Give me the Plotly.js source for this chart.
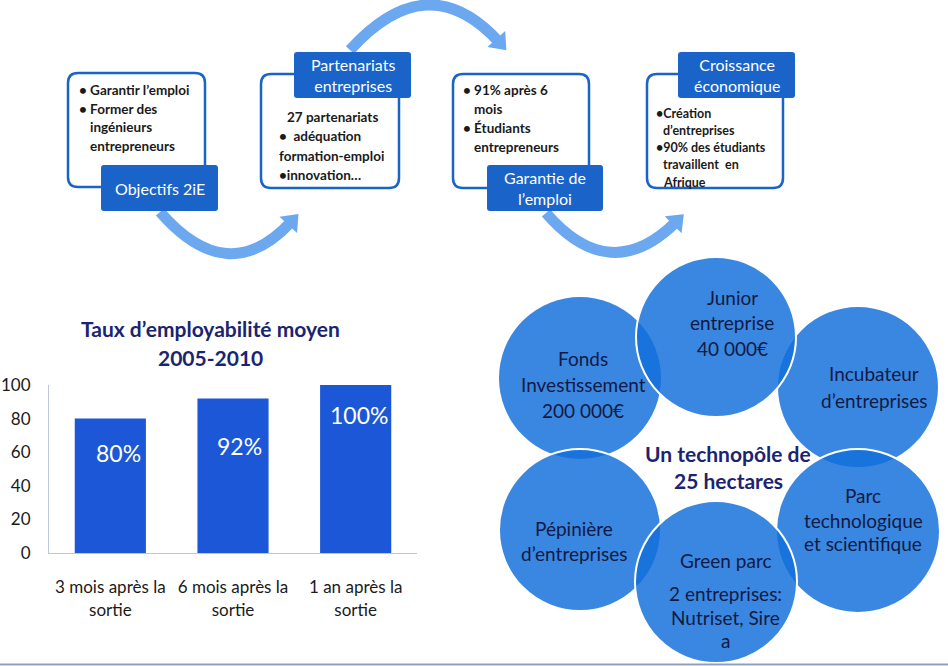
<!DOCTYPE html>
<html>
<head>
<meta charset="utf-8">
<script src="https://cdn.plot.ly/plotly-3.0.1.min.js"></script>
<style>html,body{margin:0;padding:0;background:#fff;}#chart{width:948px;height:666px;}</style>
</head>
<body>
<div id="chart"></div>
<script>
// ---------- DATA ----------
const chartTitle = ["Taux d’employabilité moyen", "2005-2010"];
const categories = ["3 mois après la<br>sortie", "6 mois après la<br>sortie", "1 an après la<br>sortie"];
const rates = [80, 92, 100];
const rateLabels = ["80%", "92%", "100%"];
const yTicks = [0, 20, 40, 60, 80, 100];

const boxHeaders = ["Objectifs 2iE", "Partenariats<br>entreprises", "Garantie de<br>l’emploi", "Croissance<br>économique"];
const box1Lines = ["• Garantir l’emploi", "• Former des", "ingénieurs", "entrepreneurs"];
const box2Lines = ["27 partenariats", "•  adéquation", "formation-emploi", "•innovation…"];
const box3Lines = ["• 91% après 6", "mois", "• Étudiants", "entrepreneurs"];
const box4Lines = ["•Création", "d’entreprises", "•90% des étudiants", "travaillent  en", "Afrique"];

const circleTexts = [
  ["Fonds", "Investissement", "200 000€"],
  ["Incubateur", "d’entreprises"],
  ["Junior", "entreprise", "40 000€"],
  ["Pépinière", "d’entreprises"],
  ["Parc", "technologique", "et scientifique"],
  ["Green parc", "2 entreprises:", "Nutriset, Sire", "a"]
];
const centerText = ["Un technopôle de", "25 hectares"];

// ---------- LAYOUT HELPERS ----------
const FONT = "Lato, 'Open Sans', sans-serif";
const NAVY = "#1b2470";
const BOXBLUE = "#1a63c9";
const ARROW = "rgb(108,168,240)";
const shapes = [];
const annotations = [];

function rr(x0, y0, x1, y1, r) {
  return `M${x0+r},${y0} L${x1-r},${y0} Q${x1},${y0} ${x1},${y0+r} L${x1},${y1-r} Q${x1},${y1} ${x1-r},${y1} L${x0+r},${y1} Q${x0},${y1} ${x0},${y1-r} L${x0},${y0+r} Q${x0},${y0} ${x0+r},${y0} Z`;
}
function txt(text, x, y, opts) {
  opts = opts || {};
  annotations.push({
    xref: "x2", yref: "y2", x: x, y: y, text: text, showarrow: false,
    xanchor: opts.anchor || "left", yanchor: "middle", align: opts.anchor === "center" ? "center" : "left",
    font: { family: FONT, size: opts.size || 13.5, color: opts.color || "#1a1a1a", weight: opts.weight || "bold" }
  });
}
function arrow(x0, y0, cx, cy, x1, y1) {
  shapes.push({ type: "path", xref: "x2", yref: "y2", path: `M${x0},${y0} Q${cx},${cy} ${x1},${y1}`,
    line: { color: ARROW, width: 11 }, fillcolor: "rgba(0,0,0,0)" });
  let dx = x1 - cx, dy = y1 - cy; const L = Math.hypot(dx, dy); dx /= L; dy /= L;
  const px = -dy, py = dx;
  const tipx = x1 + dx * 11, tipy = y1 + dy * 11;
  const bx = x1 - dx * 4, by = y1 - dy * 4;
  shapes.push({ type: "path", xref: "x2", yref: "y2",
    path: `M${tipx},${tipy} L${bx + px*12},${by + py*12} L${bx - px*12},${by - py*12} Z`,
    fillcolor: ARROW, line: { width: 0 } });
}

// arrows
arrow(160, 212, 228, 290, 291, 222);
arrow(350, 50, 428, -36, 499, 42);
arrow(546, 213, 610, 287, 676, 222);

// boxes: outline + header
const outlines = [[68,73,205,187],[261,74,399,188],[453,74,589,188],[647,74,783,188]];
const headers = [[101,165,218,211],[294,52,411,98],[487,165,603,211],[678,52,795,98]];
outlines.forEach(b => shapes.push({ type: "path", xref: "x2", yref: "y2", path: rr(b[0],b[1],b[2],b[3],10),
  fillcolor: "#ffffff", line: { color: BOXBLUE, width: 2.5 } }));
headers.forEach((b, i) => {
  shapes.push({ type: "path", xref: "x2", yref: "y2", path: rr(b[0],b[1],b[2],b[3],3),
    fillcolor: BOXBLUE, line: { width: 0 } });
  txt(boxHeaders[i], (b[0]+b[2])/2, (b[1]+b[3])/2, { anchor: "center", size: 16, color: "#ffffff", weight: "normal" });
});

// box body text
const bx1 = [77, 77, 88, 88];
box1Lines.forEach((t, i) => txt(t, bx1[i], 90 + i * 18.5));
const bx2 = [285, 277, 277, 277];
box2Lines.forEach((t, i) => txt(t, bx2[i], 117 + i * 19.3));
const bx3 = [461, 472, 461, 472];
box3Lines.forEach((t, i) => txt(t, bx3[i], 90 + i * 19));
const bx4 = [654, 661, 654, 661, 661];
box4Lines.forEach((t, i) => txt(t, bx4[i], 113 + i * 17.3, { size: 12.5 }));

// circles
const circ = [[580,378,82],[858,387,81],[716,337,80],[580,530,81],[858,531,82],[716,582,81]];
circ.forEach(c => shapes.push({ type: "circle", xref: "x2", yref: "y2",
  x0: c[0]-c[2], x1: c[0]+c[2], y0: c[1]-c[2], y1: c[1]+c[2],
  fillcolor: "rgba(18,111,219,0.83)", line: { color: "#ffffff", width: 2 } }));
const ctX = [583, 874, 732, 574, 863, 725];
const ctY = [[358,384,410],[373,400],[297,322,348],[528,553],[495,520,543],[560,593,617,640]];
circleTexts.forEach((lines, k) => {
  lines.forEach((t, i) => txt(t, ctX[k], ctY[k][i],
    { anchor: "center", size: 19, color: "#111a44", weight: "normal" }));
});
centerText.forEach((t, i) => txt(t, 728, 453 + i * 27, { anchor: "center", size: 21, color: NAVY, weight: "bold" }));

// chart title
chartTitle.forEach((t, i) => txt(t, 210, 328 + i * 29, { anchor: "center", size: 21, color: NAVY, weight: "bold" }));

// bottom rule
shapes.push({ type: "line", xref: "x2", yref: "y2", x0: 0, x1: 948, y0: 664.5, y1: 664.5,
  line: { color: "#8ea2bf", width: 2 } });

// bar value labels
const labelShiftY = [-34, -48, -30];
const labelShiftX = [8, 6, 3];
rates.forEach((v, i) => annotations.push({ xref: "x", yref: "y", x: categories[i], y: v,
  text: rateLabels[i], showarrow: false, yanchor: "middle", yshift: labelShiftY[i], xshift: labelShiftX[i],
  font: { family: FONT, size: 23, color: "#ffffff" } }));

const traces = [
  { type: "bar", x: categories, y: rates, width: 0.58, marker: { color: "#1b57d6" },
    hoverinfo: "skip", xaxis: "x", yaxis: "y" },
  { type: "scatter", x: [], y: [], xaxis: "x2", yaxis: "y2", hoverinfo: "skip", showlegend: false }
];

const layout = {
  width: 948, height: 666, margin: { l: 0, r: 0, t: 0, b: 0 },
  paper_bgcolor: "#ffffff", plot_bgcolor: "rgba(0,0,0,0)", showlegend: false,
  font: { family: FONT },
  xaxis: { domain: [49/948, 417/948], anchor: "y", range: [-0.5, 2.5], showline: true, linecolor: "#bcc6dc",
    linewidth: 1, ticks: "", showgrid: false, zeroline: false, ticklabelstandoff: 19,
    tickfont: { family: FONT, size: 17, color: "#1a1a1a" }, fixedrange: true },
  yaxis: { domain: [113/666, 281/666], anchor: "x", range: [0, 100], tickvals: yTicks, showline: true,
    linecolor: "#bcc6dc", linewidth: 1, ticks: "", showgrid: false, zeroline: false, ticklabelstandoff: 14,
    tickfont: { family: FONT, size: 17, color: "#1a1a1a" }, fixedrange: true },
  xaxis2: { domain: [0, 1], anchor: "y2", range: [0, 948], visible: false, fixedrange: true },
  yaxis2: { domain: [0, 1], anchor: "x2", range: [666, 0], visible: false, fixedrange: true },
  shapes: shapes, annotations: annotations
};

Plotly.newPlot("chart", traces, layout, { staticPlot: true, displayModeBar: false });
</script>
</body>
</html>
